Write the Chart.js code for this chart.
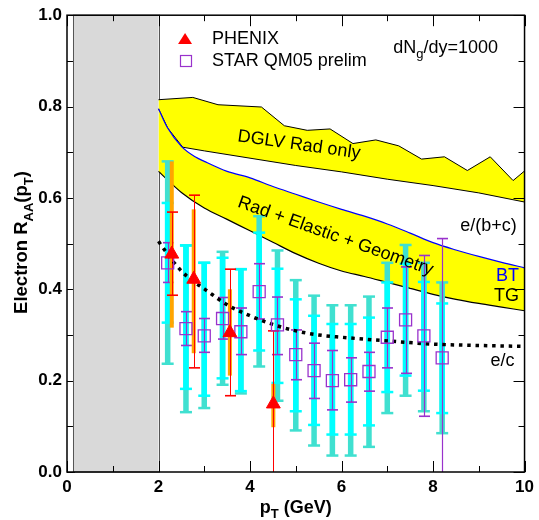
<!DOCTYPE html>
<html>
<head>
<meta charset="utf-8">
<script src="https://cdn.jsdelivr.net/npm/chart.js@4.4.1/dist/chart.umd.min.js"></script>
<style>
  html, body { margin: 0; padding: 0; background: #fff; }
  #wrap { width: 539px; height: 520px; }
</style>
</head>
<body>
<div id="wrap"><canvas id="chart" width="539" height="520"></canvas></div>
<script>
// Electron R_AA vs pT - PHENIX / STAR data with DGLV bands

// axis ticks
var xTickValues = [0, 2, 4, 6, 8, 10];
var xMinorValues = [1, 3, 5, 7, 9];
var yTickValues = [0, 0.2, 0.4, 0.6, 0.8, 1.0];
var yMinorValues = [0.1, 0.3, 0.5, 0.7, 0.9];
var grayBand = [0.13, 2.0];

// DGLV Rad only band
var dglvTopX = [2.0, 2.75, 3.3, 4.25, 4.75, 5.25, 5.75, 6.25, 6.75, 7.25, 7.75, 8.25, 8.75, 9.25, 9.75, 10];
var dglvTopY = [0.815, 0.820, 0.804, 0.799, 0.758, 0.748, 0.751, 0.719, 0.727, 0.714, 0.685, 0.690, 0.660, 0.690, 0.638, 0.659];
var dglvLowX = [2.0, 2.2, 2.53, 3.0, 4.0, 5.0, 6.0, 7.0, 8.0, 9.0, 10];
var dglvLowY = [0.795, 0.753, 0.711, 0.703, 0.687, 0.671, 0.657, 0.641, 0.627, 0.611, 0.591];

// Rad + Elastic + Geometry band (BT upper, TG lower)
var btX = [2.0, 2.2, 2.5, 2.8, 3.0, 3.5, 4.0, 4.5, 5.0, 5.5, 6.0, 6.5, 7.0, 7.5, 8.0, 8.5, 9.0, 9.5, 10];
var btY = [0.795, 0.753, 0.713, 0.690, 0.680, 0.658, 0.644, 0.625, 0.608, 0.591, 0.575, 0.560, 0.543, 0.523, 0.502, 0.486, 0.472, 0.459, 0.447];
var tgX = [2.0, 2.5, 3.0, 3.5, 4.0, 4.5, 5.0, 5.5, 6.0, 6.5, 7.0, 7.5, 8.0, 8.5, 9.0, 9.5, 10];
var tgY = [0.658, 0.612, 0.578, 0.553, 0.528, 0.503, 0.478, 0.457, 0.440, 0.428, 0.415, 0.402, 0.389, 0.378, 0.369, 0.361, 0.353];

// e/c curve
var ecX = [2.0, 2.25, 2.5, 2.75, 3.0, 3.5, 4.0, 4.5, 5.0, 5.5, 6.0, 7.0, 8.0, 9.0, 10];
var ecY = [0.505, 0.470, 0.440, 0.418, 0.401, 0.366, 0.342, 0.323, 0.309, 0.300, 0.295, 0.287, 0.280, 0.277, 0.275];

// STAR QM05 prelim
var starX = [2.2, 2.6, 3.0, 3.4, 3.8, 4.2, 4.6, 5.0, 5.4, 5.8, 6.2, 6.6, 7.0, 7.4, 7.8, 8.2];
var starY = [0.458, 0.314, 0.298, 0.336, 0.307, 0.395, 0.322, 0.257, 0.222, 0.200, 0.202, 0.220, 0.295, 0.333, 0.298, 0.250];
var starStatLo = [0.415, 0.277, 0.262, 0.291, 0.257, 0.335, 0.257, 0.202, 0.161, 0.136, 0.153, 0.177, 0.228, 0.216, 0.122, -0.10];
var starStatHi = [0.502, 0.351, 0.336, 0.382, 0.359, 0.456, 0.383, 0.311, 0.282, 0.266, 0.250, 0.262, 0.359, 0.449, 0.474, 0.511];
var starSysOutLo = [0.237, 0.131, 0.140, 0.191, 0.172, 0.231, 0.156, 0.091, 0.058, 0.036, 0.036, 0.055, 0.129, 0.167, 0.133, 0.085];
var starSysOutHi = [0.680, 0.496, 0.458, 0.482, 0.444, 0.560, 0.485, 0.420, 0.386, 0.365, 0.365, 0.384, 0.458, 0.497, 0.458, 0.415];
var starSysInLo = [0.327, 0.182, 0.167, 0.205, 0.177, 0.266, 0.195, 0.133, 0.103, 0.082, 0.082, 0.102, 0.175, 0.211, 0.178, 0.129];
var starSysInHi = [0.589, 0.496, 0.458, 0.469, 0.444, 0.524, 0.445, 0.378, 0.342, 0.324, 0.324, 0.338, 0.415, 0.456, 0.416, 0.369];

// PHENIX
var phenixX = [2.29, 2.77, 3.56, 4.51];
var phenixY = [0.477, 0.422, 0.305, 0.149];
var phenixStatLo = [0.387, 0.228, 0.167, -0.10];
var phenixStatHi = [0.569, 0.606, 0.444, 0.309];
var phenixSysLo = [0.316, 0.260, 0.211, 0.098];
var phenixSysHi = [0.680, 0.575, 0.400, 0.193];

var FONT = 'Arial, "Liberation Sans", sans-serif';
var YELLOW = '#ffff00';
var CYAN = '#00ffff';
var TURQ = '#40e0d0';
var PURPLE = '#9932cc';
var RED = '#ff0000';
var ORANGE = '#ffa500';
var EC_INDEX = 4;

function pts(xs, ys) {
  return xs.map(function(x, i) { return { x: x, y: ys[i] }; });
}

function px(chart, v) { return chart.scales.x.getPixelForValue(v); }
function py(chart, v) { return chart.scales.y.getPixelForValue(v); }

function vbar(ctx, x, yA, yB, w, color) {
  ctx.fillStyle = color;
  ctx.fillRect(x - w / 2, Math.min(yA, yB), w, Math.abs(yB - yA));
}

function cap(ctx, x, y, w, h, color) {
  ctx.fillStyle = color;
  ctx.fillRect(x - w / 2, y - h / 2, w, h);
}

// draws text pieces [text, isSub] starting at x, baseline y
function drawPieces(ctx, pieces, x, y, size, weight, color, align) {
  var big = weight + ' ' + size + 'px ' + FONT;
  var small = weight + ' ' + Math.round(size * 0.7) + 'px ' + FONT;
  var total = 0;
  pieces.forEach(function(p) {
    ctx.font = p[1] ? small : big;
    total += ctx.measureText(p[0]).width;
  });
  var cx = x;
  if (align === 'center') cx = x - total / 2;
  if (align === 'right') cx = x - total;
  ctx.fillStyle = color;
  ctx.textAlign = 'left';
  ctx.textBaseline = 'alphabetic';
  pieces.forEach(function(p) {
    ctx.font = p[1] ? small : big;
    ctx.fillText(p[0], cx, p[1] ? y + size * 0.3 : y);
    cx += ctx.measureText(p[0]).width;
  });
}

function rotText(ctx, text, x, y, deg, size) {
  ctx.save();
  ctx.translate(x, y);
  ctx.rotate(deg * Math.PI / 180);
  ctx.font = size + 'px ' + FONT;
  ctx.fillStyle = '#000';
  ctx.textAlign = 'center';
  ctx.textBaseline = 'middle';
  ctx.fillText(text, 0, 0);
  ctx.restore();
}

var backdropPlugin = {
  id: 'backdrop',
  beforeDatasetsDraw: function(chart) {
    var ctx = chart.ctx;
    var area = chart.chartArea;
    ctx.save();
    // left-side ticks (partly hidden by the gray box)
    ctx.strokeStyle = '#000';
    ctx.lineWidth = 1;
    yTickValues.concat(yMinorValues).forEach(function(v) {
      var y = Math.round(py(chart, v)) + 0.5;
      ctx.beginPath();
      ctx.moveTo(area.left, y);
      ctx.lineTo(area.left + 8, y);
      ctx.stroke();
    });
    var x0 = px(chart, grayBand[0]);
    var x1 = px(chart, grayBand[1]);
    var yTop = py(chart, 1);
    var yBot = py(chart, 0);
    ctx.fillStyle = '#d9d9d9';
    ctx.fillRect(x0, yTop, x1 - x0, yBot - yTop);
    ctx.strokeStyle = '#555';
    ctx.strokeRect(Math.round(x0) + 0.5, yTop, Math.round(x1 - x0), yBot - yTop);
    ctx.restore();
  }
};

var errorBarPlugin = {
  id: 'errorBars',
  beforeDatasetDraw: function(chart, args) {
    if (args.index !== EC_INDEX) return;
    var ctx = chart.ctx;
    var area = chart.chartArea;
    ctx.save();
    ctx.beginPath();
    ctx.rect(area.left, area.top, area.right - area.left, area.bottom - area.top);
    ctx.clip();

    starX.forEach(function(x, i) {
      var cx = px(chart, x);
      var oLo = py(chart, starSysOutLo[i]), oHi = py(chart, starSysOutHi[i]);
      var iLo = py(chart, starSysInLo[i]), iHi = py(chart, starSysInHi[i]);
      vbar(ctx, cx, oLo, oHi, 5.5, TURQ);
      cap(ctx, cx, oLo, 12, 2.5, TURQ);
      cap(ctx, cx, oHi, 12, 2.5, TURQ);
      vbar(ctx, cx, iLo, iHi, 5.5, CYAN);
      cap(ctx, cx, iLo, 12, 2.5, CYAN);
      cap(ctx, cx, iHi, 12, 2.5, CYAN);
    });

    starX.forEach(function(x, i) {
      var cx = Math.round(px(chart, x)) + 0.5;
      var lo = py(chart, starStatLo[i]), hi = py(chart, starStatHi[i]);
      ctx.strokeStyle = PURPLE;
      ctx.lineWidth = 1.2;
      ctx.beginPath();
      ctx.moveTo(cx, lo);
      ctx.lineTo(cx, hi);
      ctx.stroke();
      cap(ctx, cx, lo, 11, 1.6, PURPLE);
      cap(ctx, cx, hi, 11, 1.6, PURPLE);
    });

    phenixX.forEach(function(x, i) {
      var cx = px(chart, x);
      vbar(ctx, cx, py(chart, phenixSysLo[i]), py(chart, phenixSysHi[i]), 4, ORANGE);
      var lx = Math.round(cx) + 0.5;
      var lo = py(chart, phenixStatLo[i]), hi = py(chart, phenixStatHi[i]);
      ctx.strokeStyle = RED;
      ctx.lineWidth = 1;
      ctx.beginPath();
      ctx.moveTo(lx, lo);
      ctx.lineTo(lx, hi);
      ctx.stroke();
      cap(ctx, lx, lo, 11, 1.6, RED);
      cap(ctx, lx, hi, 11, 1.6, RED);
    });
    ctx.restore();
  }
};

var frameTextPlugin = {
  id: 'frameText',
  afterDraw: function(chart) {
    var ctx = chart.ctx;
    var a = chart.chartArea;
    ctx.save();
    ctx.strokeStyle = '#000';
    ctx.lineWidth = 1.5;
    ctx.strokeRect(a.left, a.top, a.right - a.left, a.bottom - a.top);

    // inward ticks: bottom, top, right
    ctx.lineWidth = 1;
    function xt(v, len) {
      var x = Math.round(px(chart, v)) + 0.5;
      ctx.beginPath();
      ctx.moveTo(x, a.bottom); ctx.lineTo(x, a.bottom - len);
      ctx.moveTo(x, a.top); ctx.lineTo(x, a.top + len);
      ctx.stroke();
    }
    function yt(v, len) {
      var y = Math.round(py(chart, v)) + 0.5;
      ctx.beginPath();
      ctx.moveTo(a.right, y); ctx.lineTo(a.right - len, y);
      ctx.stroke();
    }
    xTickValues.forEach(function(v) { xt(v, 11); });
    xMinorValues.forEach(function(v) { xt(v, 6); });
    yTickValues.forEach(function(v) { yt(v, 11); });
    yMinorValues.forEach(function(v) { yt(v, 6); });

    // band labels
    rotText(ctx, 'DGLV Rad only', px(chart, 5.07), py(chart, 0.716), 8, 18);
    rotText(ctx, 'Rad + Elastic + Geometry', px(chart, 5.87), py(chart, 0.516), 19.5, 18);

    ctx.font = '18px ' + FONT;
    ctx.textBaseline = 'middle';
    ctx.textAlign = 'right';
    ctx.fillStyle = '#000';
    ctx.fillText('e/(b+c)', px(chart, 9.83), py(chart, 0.538));
    ctx.fillStyle = '#0000ff';
    ctx.fillText('BT', px(chart, 9.88), py(chart, 0.429));
    ctx.fillStyle = '#000';
    ctx.fillText('TG', px(chart, 9.88), py(chart, 0.386));
    ctx.fillText('e/c', px(chart, 9.78), py(chart, 0.244));

    drawPieces(ctx, [['dN', false], ['g', true], ['/dy=1000', false]],
      px(chart, 7.13), py(chart, 0.918), 18, 'normal', '#000', 'left');

    // legend
    var lx = px(chart, 2.58);
    var ly1 = py(chart, 0.948), ly2 = py(chart, 0.900);
    ctx.fillStyle = RED;
    ctx.beginPath();
    ctx.moveTo(lx, ly1 - 6); ctx.lineTo(lx + 7, ly1 + 5); ctx.lineTo(lx - 7, ly1 + 5);
    ctx.closePath();
    ctx.fill();
    ctx.strokeStyle = PURPLE;
    ctx.lineWidth = 1.2;
    ctx.strokeRect(Math.round(lx - 5.5) + 0.5, Math.round(ly2 - 5.5) + 0.5, 11, 11);
    ctx.fillStyle = '#000';
    ctx.font = '18px ' + FONT;
    ctx.textAlign = 'left';
    ctx.textBaseline = 'middle';
    ctx.fillText('PHENIX', lx + 27, ly1);
    ctx.fillText('STAR QM05 prelim', lx + 27, ly2);

    // axis titles
    drawPieces(ctx, [['p', false], ['T', true], [' (GeV)', false]],
      (a.left + a.right) / 2, 513, 18, 'bold', '#000', 'center');
    ctx.save();
    ctx.translate(27, 242.5);
    ctx.rotate(-Math.PI / 2);
    drawPieces(ctx, [['Electron R', false], ['AA', true], ['(p', false], ['T', true], [')', false]],
      0, 0, 18.5, 'bold', '#000', 'center');
    ctx.restore();
    ctx.restore();
  }
};

var chart = new Chart(document.getElementById('chart'), {
  type: 'scatter',
  data: {
    datasets: [
      { data: pts(dglvLowX, dglvLowY), showLine: true, borderColor: '#000', borderWidth: 1,
        pointRadius: 0, fill: false, order: 6 },
      { data: pts(dglvTopX, dglvTopY), showLine: true, borderColor: '#000', borderWidth: 1,
        pointRadius: 0, fill: '-1', backgroundColor: YELLOW, order: 6 },
      { data: pts(tgX, tgY), showLine: true, borderColor: '#000', borderWidth: 1.2,
        pointRadius: 0, fill: false, cubicInterpolationMode: 'monotone', order: 5 },
      { data: pts(btX, btY), showLine: true, borderColor: '#0000ff', borderWidth: 1.2,
        pointRadius: 0, fill: '-1', backgroundColor: YELLOW, cubicInterpolationMode: 'monotone', order: 5 },
      { data: pts(ecX, ecY), showLine: true, borderColor: '#000', borderWidth: 3.5,
        borderDash: [3.5, 4.8], borderCapStyle: 'butt', pointRadius: 0, fill: false,
        cubicInterpolationMode: 'monotone', order: 2 },
      { data: pts(starX, starY), showLine: false, pointStyle: 'rect', pointRadius: 8.5,
        pointBorderColor: PURPLE, pointBackgroundColor: 'rgba(0,0,0,0)', pointBorderWidth: 1.3, order: 1 },
      { data: pts(phenixX, phenixY), showLine: false, pointStyle: 'triangle', pointRadius: 8,
        pointBorderColor: RED, pointBackgroundColor: RED, pointBorderWidth: 1, order: 0 }
    ]
  },
  options: {
    responsive: false,
    animation: false,
    events: [],
    layout: { padding: { left: 0, right: 12, top: 13, bottom: 0 } },
    plugins: { legend: { display: false }, tooltip: { enabled: false } },
    scales: {
      x: {
        type: 'linear', min: 0, max: 10,
        grid: { display: false, drawTicks: false },
        border: { display: false },
        afterBuildTicks: function(s) { s.ticks = xTickValues.map(function(v) { return { value: v }; }); },
        afterFit: function(s) { s.height = 48; },
        ticks: { color: '#000', padding: 5, maxRotation: 0, font: { family: FONT, size: 17, weight: 'bold' },
          callback: function(v) { return String(v); } }
      },
      y: {
        type: 'linear', min: 0, max: 1,
        grid: { display: false, drawTicks: false },
        border: { display: false },
        afterBuildTicks: function(s) { s.ticks = yTickValues.map(function(v) { return { value: v }; }); },
        afterFit: function(s) { s.width = 67; },
        ticks: { color: '#000', padding: 5, font: { family: FONT, size: 17, weight: 'bold' },
          callback: function(v) { return Number(v).toFixed(1); } }
      }
    }
  },
  plugins: [backdropPlugin, errorBarPlugin, frameTextPlugin]
});
</script>
</body>
</html>
